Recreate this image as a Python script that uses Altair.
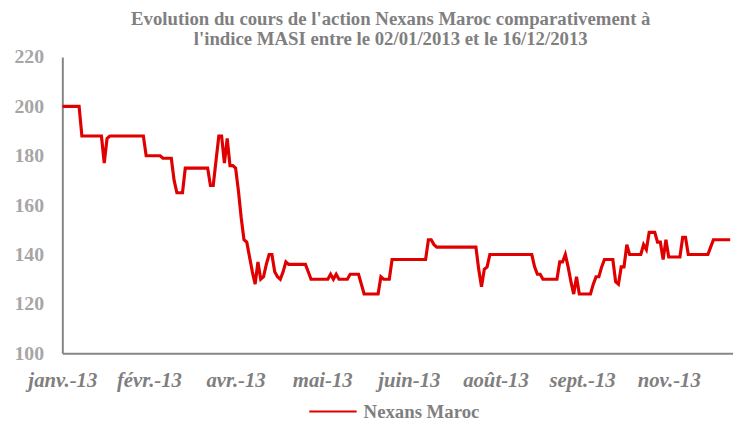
import json
import altair as alt
import pandas as pd

# Daily closing prices of Nexans Maroc (trading-day index 0..239)
values = [
    200, 200, 200, 200, 200, 200, 200,
    188, 188, 188, 188, 188, 188, 188, 188,
    177, 187,
    188, 188, 188, 188, 188, 188, 188, 188, 188, 188, 188, 188, 188,
    180, 180, 180, 180, 180, 180,
    179, 179, 179, 179,
    170, 165, 165, 165,
    175, 175, 175, 175, 175, 175, 175, 175, 175,
    168, 168, 178, 188, 188, 177, 187, 176, 176, 175,
    166, 155, 146, 145, 139, 133, 128, 137, 130, 131,
    136, 140, 140, 133, 131, 130, 133, 137,
    136, 136, 136, 136, 136, 136, 136,
    133, 130, 130, 130, 130, 130, 130, 130,
    132, 130, 132, 130, 130, 130, 130,
    132, 132, 132, 132, 128,
    124, 124, 124, 124, 124, 124,
    131, 130, 130, 130,
    138, 138, 138, 138, 138, 138, 138, 138, 138, 138, 138, 138, 138,
    146, 146, 144,
    143, 143, 143, 143, 143, 143, 143, 143, 143, 143, 143, 143, 143, 143, 143,
    134, 127, 134, 135,
    140, 140, 140, 140, 140, 140, 140, 140, 140, 140, 140, 140, 140, 140, 140, 140,
    135, 132, 132,
    130, 130, 130, 130, 130, 130,
    137, 137, 140, 135, 129, 124, 131,
    124, 124, 124, 124, 124,
    128, 131, 131, 135,
    138, 138, 138, 138,
    129, 128, 135, 135, 144,
    140, 140, 140, 140, 140,
    144, 142, 149, 149, 149, 145, 145, 138, 146,
    139, 139, 139, 139, 139,
    147, 147,
    140, 140, 140, 140, 140, 140, 140, 140,
    143,
    146, 146, 146, 146, 146, 146, 146,
]
day_index = list(range(len(values)))
series_name = ["Nexans Maroc"] * len(values)

tick_positions = [0, 31, 62, 93, 124, 155, 186, 217]
tick_labels = ["janv.-13", "févr.-13", "avr.-13", "mai-13", "juin-13", "août-13", "sept.-13", "nov.-13"]
y_ticks = [100, 120, 140, 160, 180, 200, 220]

df = pd.DataFrame({"jour": day_index, "cours": values, "serie": series_name})

label_expr = (
    json.dumps(tick_labels, ensure_ascii=False)
    + "[indexof(" + json.dumps(tick_positions) + ", datum.value)]"
)

FONT = "Liberation Serif"

chart = (
    alt.Chart(df)
    .mark_line(strokeWidth=3.2, strokeJoin="miter", clip=True)
    .encode(
        x=alt.X(
            "jour:Q",
            scale=alt.Scale(domain=[0, 240], nice=False, zero=False),
            axis=alt.Axis(
                values=tick_positions,
                labelExpr=label_expr,
                title=None,
                grid=False,
                ticks=False,
                labelPadding=17,
                labelFont=FONT,
                labelFontSize=21,
                labelFontStyle="italic",
                labelFontWeight="bold",
                labelColor="#7f7f7f",
                labelAlign="center",
                labelBaseline="top",
                labelFlush=False,
                labelOverlap=False,
                domainColor="#868686",
                domainWidth=2,
            ),
        ),
        y=alt.Y(
            "cours:Q",
            scale=alt.Scale(domain=[100, 220], nice=False, zero=False),
            axis=alt.Axis(
                values=y_ticks,
                title=None,
                grid=False,
                ticks=False,
                labelPadding=19,
                labelFont=FONT,
                labelFontSize=20,
                labelFontWeight="bold",
                labelColor="#a6a6a6",
                labelBaseline="middle",
                domainColor="#868686",
                domainWidth=2,
            ),
        ),
        color=alt.Color(
            "serie:N",
            scale=alt.Scale(range=["#e00000"]),
            legend=alt.Legend(
                title=None,
                orient="none",
                legendX=249,
                legendY=334,
                direction="horizontal",
                symbolType="stroke",
                symbolSize=2300,
                symbolStrokeWidth=2,
                labelFont=FONT,
                labelFontSize=19,
                labelFontWeight="bold",
                labelColor="#7f7f7f",
                labelOffset=6,
                labelBaseline="middle",
                labelLimit=300,
            ),
        ),
    )
    .properties(
        width=679,
        height=300,
        title=alt.TitleParams(
            text=[
                "Evolution du cours de l'action  Nexans Maroc comparativement à",
                "l'indice MASI  entre le 02/01/2013 et le 16/12/2013",
            ],
            font=FONT,
            fontSize=19,
            fontWeight="bold",
            color="#7f7f7f",
            anchor="middle",
            dx=-7,
            offset=-2,
            lineHeight=20,
        ),
        autosize=alt.AutoSizeParams(type="none"),
        padding={"left": 55, "top": 47, "right": 0, "bottom": 70},
    )
    .configure_view(stroke=None)
)

chart.save("out.html", embed_options={"renderer": "svg", "actions": False})
